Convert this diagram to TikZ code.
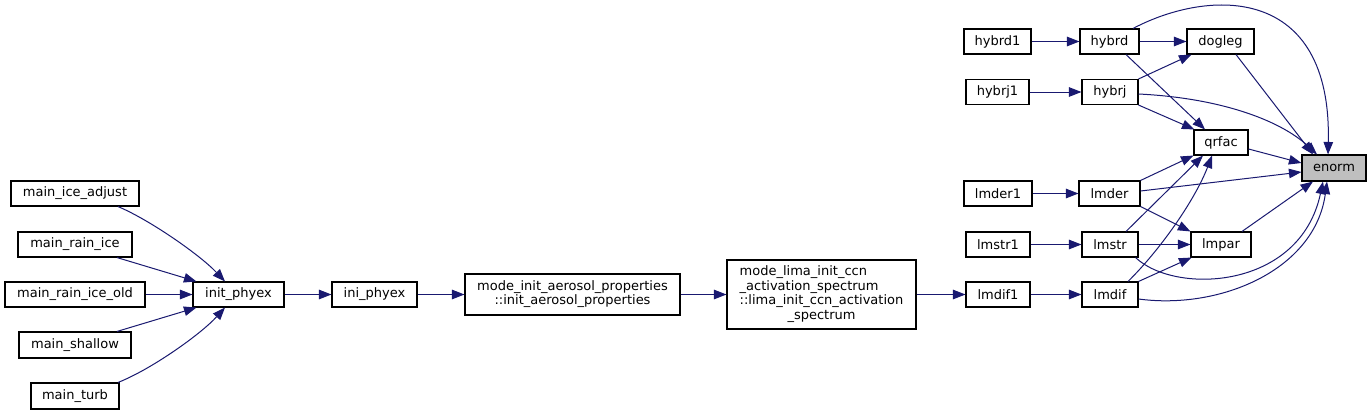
\documentclass[tikz,border=0pt]{standalone}
\usepackage{fontspec}
\setmainfont{DejaVu Sans}
\usetikzlibrary{arrows.meta}
\definecolor{edgeblue}{HTML}{191970}
\definecolor{hl}{HTML}{BFBFBF}
\begin{document}
\begin{tikzpicture}[x=1pt,y=-1pt,
  box/.style={draw=black, fill=white, line width=1.1pt, inner sep=0pt, minimum height=25pt, font=\fontsize{13}{14.5}\selectfont},
  edge/.style={draw=edgeblue, line width=1pt, -{Triangle[length=12.5pt,width=9.5pt]}}]
\useasboundingbox[fill=white] (0,0) rectangle (1372,415);
% nodes
\node[box, fill=hl, minimum width=64pt, minimum height=26pt] (enorm) at (1334,168) {enorm};
\node[box, minimum width=67pt] (dogleg) at (1220.5,41.5) {dogleg};
\node[box, minimum width=59pt] (hybrd) at (1109.5,41.5) {hybrd};
\node[box, minimum width=67pt] (hybrd1) at (997.5,41.5) {hybrd1};
\node[box, minimum width=63pt] (hybrj1) at (997.5,92) {hybrj1};
\node[box, minimum width=56pt] (hybrj) at (1110,92) {hybrj};
\node[box, minimum width=54pt] (qrfac) at (1221,142.5) {qrfac};
\node[box, minimum width=68pt] (lmder1) at (998,193.5) {lmder1};
\node[box, minimum width=61pt] (lmder) at (1109.5,193.5) {lmder};
\node[box, minimum width=64pt] (lmstr1) at (998,244.5) {lmstr1};
\node[box, minimum width=56pt] (lmstr) at (1110,244.5) {lmstr};
\node[box, minimum width=60pt] (lmpar) at (1221,244.5) {lmpar};
\node[box, minimum width=64pt] (lmdif1) at (998,294.5) {lmdif1};
\node[box, minimum width=56pt] (lmdif) at (1110,294.5) {lmdif};
\node[box, minimum width=189pt, minimum height=69pt] (lima) at (821.5,294.5)
  {\begin{tabular}{@{}l@{}}mode\_lima\_init\_ccn\\\_activation\_spectrum\\::lima\_init\_ccn\_activation\\\multicolumn{1}{@{}c@{}}{\_spectrum}\end{tabular}};
\node[box, minimum width=215pt, minimum height=41pt] (aero) at (572.5,294.5)
  {\begin{tabular}{@{}c@{}}mode\_init\_aerosol\_properties\\::init\_aerosol\_properties\end{tabular}};
\node[box, minimum width=85pt] (iniphyex) at (374.5,294.5) {ini\_phyex};
\node[box, minimum width=91pt] (initphyex) at (238.5,294.5) {init\_phyex};
\node[box, minimum width=128pt] (mia) at (75,193.5) {main\_ice\_adjust};
\node[box, minimum width=114pt] (mri) at (75,244.5) {main\_rain\_ice};
\node[box, minimum width=140pt] (mrio) at (75,294.5) {main\_rain\_ice\_old};
\node[box, minimum width=112pt, minimum height=26pt] (msh) at (75,345) {main\_shallow};
\node[box, minimum width=88pt, minimum height=26pt] (mtu) at (75,396) {main\_turb};
% edges right part
\draw[edge] (hybrd1.east) -- (hybrd.west);
\draw[edge] (hybrd.east) -- (dogleg.west);
\draw[edge] ([xshift=16.5pt]hybrd.south) -- ([xshift=-16pt]qrfac.north);
\draw[edge] ([xshift=23.5pt]hybrd.north) .. controls (1210,-12) and (1332,-15) .. ([xshift=-6pt]enorm.north);
\draw[edge] (hybrj1.east) -- (hybrj.west);
\draw[edge] (hybrj.north east) -- ([xshift=5pt]dogleg.south west);
\draw[edge] ([yshift=-2pt]hybrj.east) .. controls (1220,98) and (1280,120) .. ([xshift=-17pt]enorm.north);
\draw[edge] (hybrj.south east) -- ([xshift=1pt]qrfac.north west);
\draw[edge] ([xshift=15.5pt]dogleg.south) -- ([xshift=-21pt]enorm.north);
\draw[edge] ([yshift=-6.5pt]qrfac.east) -- ([yshift=5pt]enorm.west);
\draw[edge] (lmder1.east) -- (lmder.west);
\draw[edge] ([yshift=2.5pt]lmder.east) -- ([yshift=-4pt]enorm.west);
\draw[edge] (lmder.north east) -- (qrfac.south west);
\draw[edge] (lmder.south east) -- (lmpar.north west);
\draw[edge] (lmstr1.east) -- (lmstr.west);
\draw[edge] ([xshift=16pt]lmstr.north) -- ([xshift=-18pt]qrfac.south);
\draw[edge] (lmstr.east) -- (lmpar.west);
\draw[edge] ([xshift=-3pt]lmstr.south east) .. controls (1175,295) and (1300,290) .. ([xshift=-11pt]enorm.south);
\draw[edge] (lmdif1.east) -- (lmdif.west);
\draw[edge] ([xshift=18pt]lmdif.north) .. controls (1160,250) and (1195,200) .. ([xshift=-9pt]qrfac.south);
\draw[edge] (lmdif.north east) -- ([xshift=1pt]lmpar.south west);
\draw[edge] ([yshift=-4.5pt]lmdif.east) .. controls (1220,310) and (1315,270) .. ([xshift=-7pt]enorm.south);
\draw[edge] ([xshift=21pt]lmpar.north) -- ([xshift=-21pt]enorm.south);
% chain
\draw[edge] (lima.east) -- (lmdif1.west);
\draw[edge] (aero.east) -- (lima.west);
\draw[edge] (iniphyex.east) -- (aero.west);
\draw[edge] (initphyex.east) -- (iniphyex.west);
% left part
\draw[edge] (mrio.east) -- (initphyex.west);
\draw[edge] ([xshift=42pt]mri.south) -- ([xshift=4pt]initphyex.north west);
\draw[edge] ([xshift=42pt]msh.north) -- ([xshift=4pt]initphyex.south west);
\draw[edge] ([xshift=43pt]mia.south) .. controls (150,220) and (200,255) .. ([xshift=-13.5pt]initphyex.north);
\draw[edge] ([xshift=43pt]mtu.north) .. controls (150,370) and (200,335) .. ([xshift=-13.5pt]initphyex.south);
\end{tikzpicture}
\end{document}
